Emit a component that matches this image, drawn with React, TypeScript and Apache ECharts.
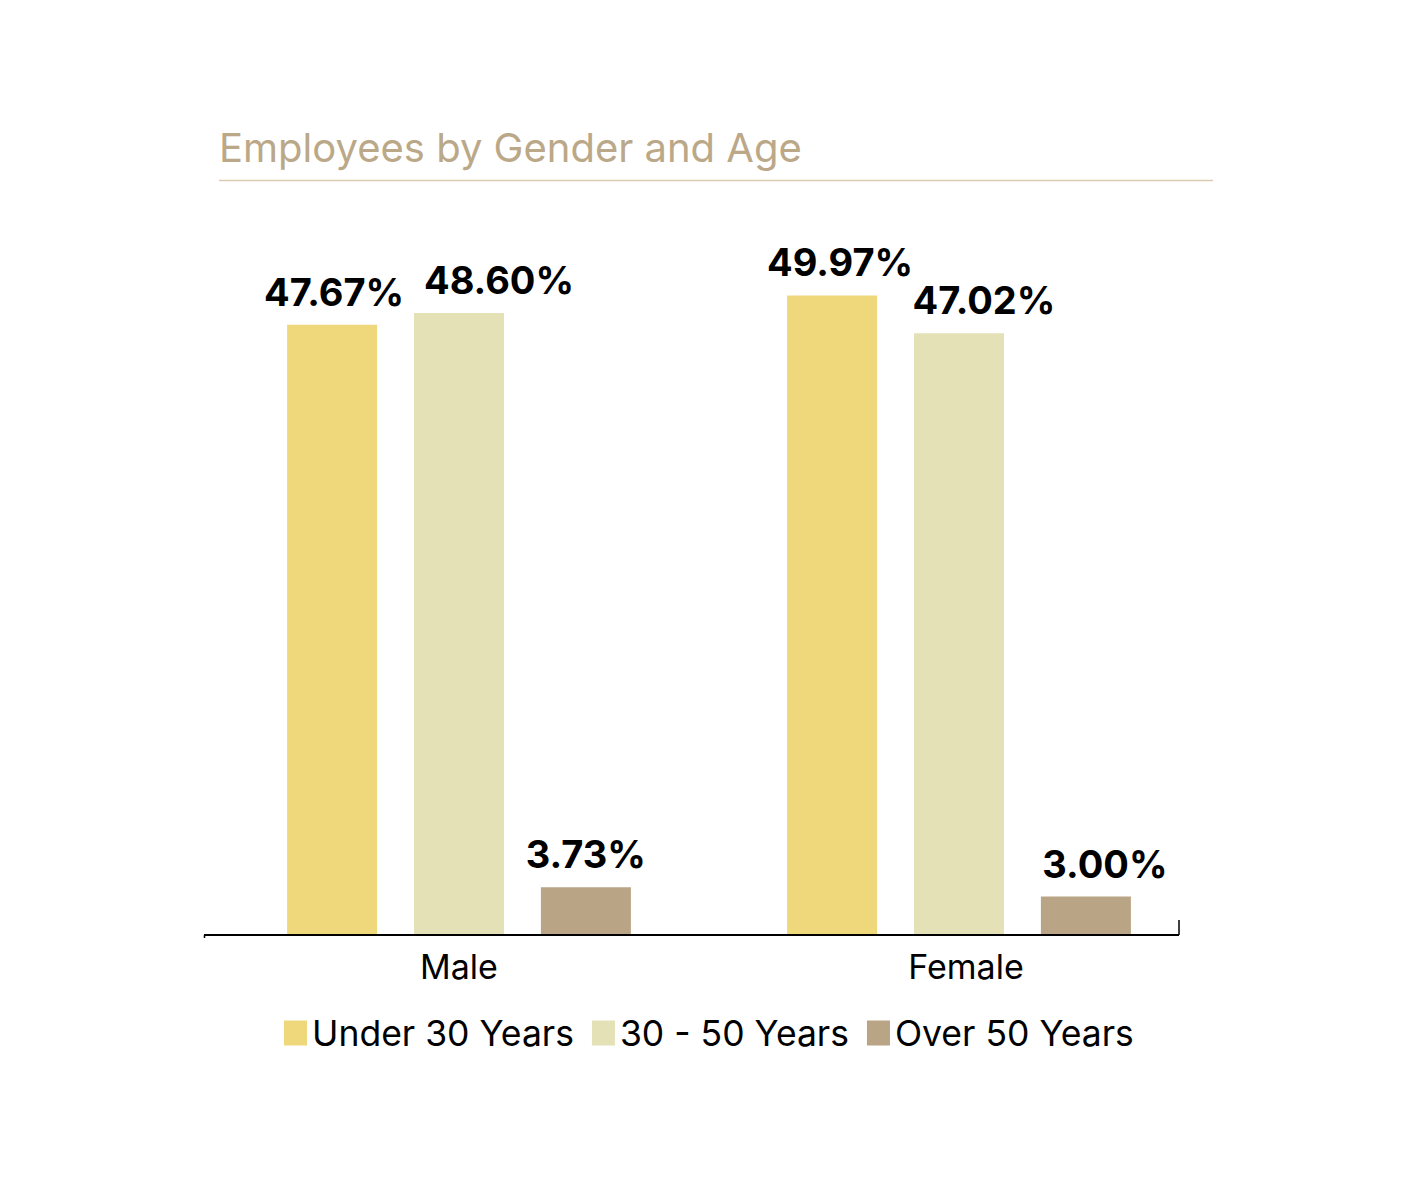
import { useEffect, useRef } from "react";
import * as echarts from "echarts";

const categories = ["Male", "Female"];
const seriesNames = ["Under 30 Years", "30 - 50 Years", "Over 50 Years"];
const under30 = [47.67, 49.97];
const from30to50 = [48.6, 47.02];
const over50 = [3.73, 3.0];
const colors = ["#efd87c", "#e3e1b5", "#b9a585"];
// horizontal nudges of the value labels, as placed in the original
const labelShift = [
  [2, 8],
  [40, 25],
  [0, 19],
];

export default function App() {
  const ref = useRef<HTMLDivElement | null>(null);

  useEffect(() => {
    if (!ref.current) return;
    const chart = echarts.init(ref.current, undefined, { renderer: "svg" });
    const values = [under30, from30to50, over50];

    chart.setOption({
      animation: false,
      backgroundColor: "#ffffff",
      textStyle: { fontFamily: "Inter" },
      title: {
        text: "Employees by Gender and Age",
        left: 214,
        top: 122,
        textStyle: {
          fontFamily: "Inter",
          fontSize: 40,
          fontWeight: "normal",
          color: "#bba888",
        },
      },
      legend: {
        left: 279,
        top: 1010,
        itemWidth: 23,
        itemHeight: 25,
        itemGap: 18,
        icon: "rect",
        data: seriesNames,
        textStyle: { fontSize: 35.5, color: "#000", fontFamily: "Inter" },
      },
      grid: { left: 209, width: 1000, top: 231, bottom: 246 },
      xAxis: {
        type: "category",
        data: categories,
        axisLine: { show: false },
        axisTick: { show: false },
        axisLabel: {
          fontSize: 34,
          color: "#000",
          margin: 14,
          // the original sets "Female" a little right of its bar group
          formatter: (v: string) => (v === "Female" ? `{f|${v}}` : v),
          rich: { f: { fontSize: 34, color: "#000", padding: [0, 0, 0, 14] } },
        },
      },
      yAxis: { type: "value", min: 0, max: 55, show: false },
      series: values.map((v, i) => ({
        name: seriesNames[i],
        type: "bar",
        data: v.map((val, j) => ({
          value: val,
          label: { offset: [labelShift[i][j], 0] },
        })),
        barWidth: 90,
        barGap: "41%",
        itemStyle: { color: colors[i] },
        label: {
          show: true,
          position: "top",
          distance: 14,
          fontSize: 38,
          fontWeight: "bold",
          color: "#000",
          formatter: (p: { value: number }) => `${p.value.toFixed(2)}%`,
        },
      })),
      graphic: [
        {
          type: "line",
          shape: { x1: 219, y1: 180.5, x2: 1213, y2: 180.5 },
          style: { stroke: "#d9ccb0", lineWidth: 1.5 },
        },
        {
          type: "line",
          shape: { x1: 204, y1: 935, x2: 1179, y2: 935 },
          style: { stroke: "#000", lineWidth: 2 },
          z: 10,
        },
        {
          type: "line",
          shape: { x1: 1179, y1: 920, x2: 1179, y2: 935 },
          style: { stroke: "#000", lineWidth: 1.5 },
          z: 10,
        },
        {
          type: "line",
          shape: { x1: 204.5, y1: 935, x2: 204.5, y2: 938 },
          style: { stroke: "#000", lineWidth: 1.5 },
          z: 10,
        },
      ],
    });

    return () => chart.dispose();
  }, []);

  return (
    <div
      ref={ref}
      style={{ position: "absolute", left: 0, top: 0, width: 1417, height: 1181 }}
    />
  );
}
